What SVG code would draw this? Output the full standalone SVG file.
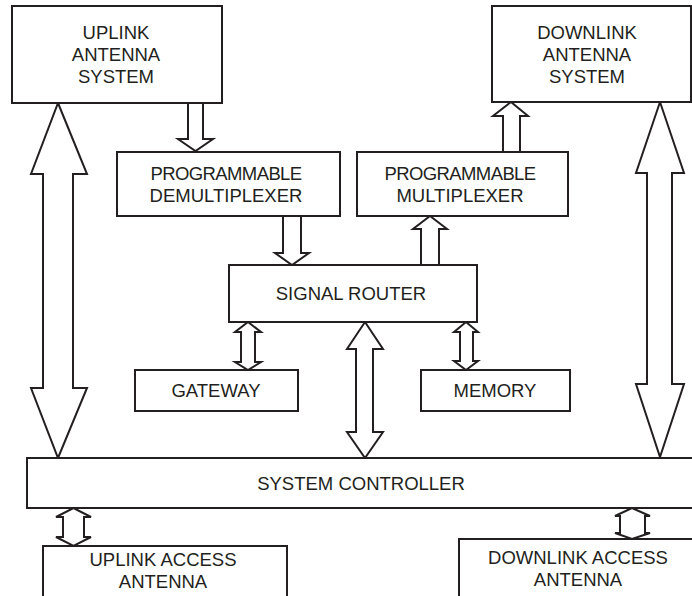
<svg xmlns="http://www.w3.org/2000/svg" width="692" height="596" viewBox="0 0 692 596">
<style>
.box{fill:#fff;stroke:#231f20;stroke-width:2}
.arr{fill:#fff;stroke:#231f20;stroke-width:2;stroke-linejoin:miter}
.t{font-family:"Liberation Sans",Arial,Helvetica,sans-serif;font-size:18.5px;fill:#231f20;text-anchor:middle}
.tight{letter-spacing:-0.6px}
</style>
<rect width="692" height="596" fill="#fff"/>
<g id="connectors">
<polygon class="arr" points="188,103 188,139 178,139 195.5,151 213,139 203,139 203,103"/>
<polygon class="arr" points="283,216 283,253 275,253 292,265 309,253 301,253 301,216"/>
<polygon class="arr" points="421,265 421,229 413,229 430,216 447,229 439,229 439,265"/>
<polygon class="arr" points="503,152 503,116 493,116 511,102 528,116 520,116 520,152"/>
<polygon class="arr" points="58,103 87,174 73,174 73,388 87,388 58,458 31,388 43,388 43,174 31,174"/>
<polygon class="arr" points="660,102 684,173 672,173 672,384 684,384 660,457 636,384 647,384 647,173 636,173"/>
<polygon class="arr" points="365,322 383,349 373,349 373,432 383,432 365,458 347,432 356,432 356,349 347,349"/>
<polygon class="arr" points="248,322 261,332 255,332 255,362 261,362 248,370 235,362 241,362 241,332 235,332"/>
<polygon class="arr" points="466,322 478,332 473,332 473,361 478,361 466,370 454,361 460,361 460,332 454,332"/>
<polygon class="arr" points="73.5,508 91,517 84,517 84,537 91,537 73.5,546 56,537 63,537 63,517 56,517"/>
<polygon class="arr" points="632,508 650,516 645,516 645,533 650,533 632,539 615,533 620,533 620,516 615,516"/>
</g>
<g id="uplink-antenna">
<rect class="box" x="12" y="6" width="210" height="97"/>
<text class="t" x="116" y="39">UPLINK</text>
<text class="t" x="116" y="61">ANTENNA</text>
<text class="t" x="116" y="83">SYSTEM</text>
</g>
<g id="downlink-antenna">
<rect class="box" x="492" y="6" width="199" height="96"/>
<text class="t" x="587" y="39">DOWNLINK</text>
<text class="t" x="587" y="61">ANTENNA</text>
<text class="t" x="587" y="83">SYSTEM</text>
</g>
<g id="demux">
<rect class="box" x="117" y="152" width="223" height="64"/>
<text class="t tight" x="226" y="180">PROGRAMMABLE</text>
<text class="t" x="226" y="202">DEMULTIPLEXER</text>
</g>
<g id="mux">
<rect class="box" x="357" y="152" width="211" height="64"/>
<text class="t tight" x="460" y="180">PROGRAMMABLE</text>
<text class="t" x="460" y="202">MULTIPLEXER</text>
</g>
<g id="router">
<rect class="box" x="229" y="265" width="248" height="57"/>
<text class="t" x="351" y="300">SIGNAL ROUTER</text>
</g>
<g id="gateway">
<rect class="box" x="135" y="370" width="163" height="41"/>
<text class="t" x="216" y="397">GATEWAY</text>
</g>
<g id="memory">
<rect class="box" x="421" y="370" width="149" height="41"/>
<text class="t" x="495" y="397">MEMORY</text>
</g>
<g id="controller">
<rect class="box" x="27" y="458" width="680" height="50"/>
<text class="t" x="361" y="490">SYSTEM CONTROLLER</text>
</g>
<g id="uplink-access">
<rect class="box" x="43" y="546" width="244" height="60"/>
<text class="t" x="163" y="566">UPLINK ACCESS</text>
<text class="t" x="163" y="588">ANTENNA</text>
</g>
<g id="downlink-access">
<rect class="box" x="459" y="539" width="250" height="70"/>
<text class="t" x="578" y="564">DOWNLINK ACCESS</text>
<text class="t" x="578" y="586">ANTENNA</text>
</g>
</svg>
